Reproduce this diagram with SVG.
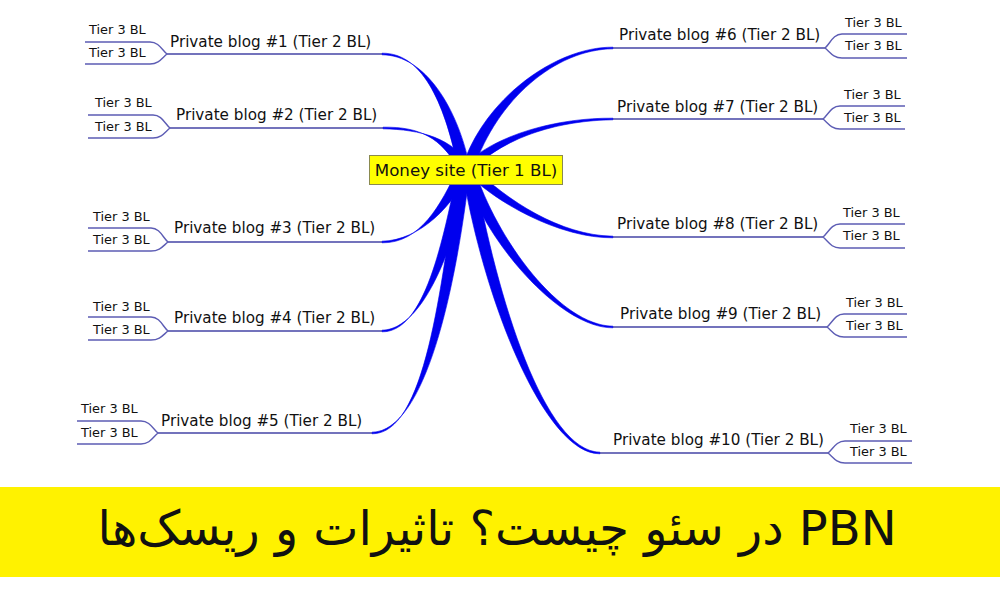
<svg xmlns="http://www.w3.org/2000/svg" width="1000" height="600" viewBox="0 0 1000 600">
<style>
.t2{font-family:"DejaVu Sans",Verdana,sans-serif;font-size:15.2px;fill:#111}
.t3{font-family:"DejaVu Sans",Verdana,sans-serif;font-size:12.9px;fill:#111}
.ul{fill:none;stroke:#4444a6;stroke-width:1.5}
.fk{fill:none;stroke:#5c5cb4;stroke-width:1.4}
.br{fill:#0000ee;stroke:#0000ee;stroke-width:0.6}
</style>
<rect width="1000" height="600" fill="#ffffff"/>
<g id="connectors">
<path class="br" d="M382,53.2 C425,52.5 446,110 458,168 L470,168 C458,108 425,55 382,54.8 Z"/>
<path class="br" d="M383,127.2 C420,126.5 441,138 458,168 L470,168 C455,138 420,129.5 383,128.8 Z"/>
<path class="br" d="M382,241.2 C420,240.5 455,205 470,168 L458,168 C441,205 420,243.5 382,242.8 Z"/>
<path class="br" d="M382,330.2 C425,329.5 457,240 470,168 L458,168 C443,240 425,332.5 382,331.8 Z"/>
<path class="br" d="M372,432.2 C425,431.5 456,290 470,168 L458,168 C441,290 425,434.5 372,433.8 Z"/>
<path class="br" d="M613,47.2 C555,46.5 483,100 462,168 L474,168 C497,100 555,49.5 613,48.8 Z"/>
<path class="br" d="M613,118.2 C560,117.5 493,134 462,168 L474,168 C507,136 560,120.5 613,119.8 Z"/>
<path class="br" d="M613,236.2 C560,235.5 507,200 474,168 L462,168 C493,202 560,238.5 613,237.8 Z"/>
<path class="br" d="M613,326.2 C560,325.5 497,240 474,168 L462,168 C483,240 560,328.5 613,327.8 Z"/>
<path class="br" d="M600,452.2 C545,451.5 497,300 474,168 L462,168 C483,300 545,454.5 600,453.8 Z"/>
</g>
<g id="money-site">
<rect x="369.5" y="155.5" width="193" height="29" fill="#ffff00" stroke="#8a8a50" stroke-width="1"/>
<text x="466" y="176" text-anchor="middle" font-family="DejaVu Sans, Verdana, sans-serif" font-size="16.7" fill="#111">Money site (Tier 1 BL)</text>
</g>
<g id="blog1">
<path class="ul" d="M167,54 L382,54"/>
<text class="t2" x="170" y="47">Private blog #1 (Tier 2 BL)</text>
<path class="fk" d="M85,42 L150,42 C159,42 162,50 167,54 M85,64 L150,64 C159,64 162,58 167,54"/>
<text class="t3" x="89" y="34">Tier 3 BL</text>
<text class="t3" x="89" y="57">Tier 3 BL</text>
</g>
<g id="blog2">
<path class="ul" d="M170,128 L383,128"/>
<text class="t2" x="176" y="120">Private blog #2 (Tier 2 BL)</text>
<path class="fk" d="M88,115 L153,115 C162,115 165,124 170,128 M88,138 L153,138 C162,138 165,132 170,128"/>
<text class="t3" x="95" y="107">Tier 3 BL</text>
<text class="t3" x="95" y="131">Tier 3 BL</text>
</g>
<g id="blog3">
<path class="ul" d="M168,242 L382,242"/>
<text class="t2" x="174" y="233">Private blog #3 (Tier 2 BL)</text>
<path class="fk" d="M88,228 L151,228 C160,228 163,238 168,242 M88,251 L151,251 C160,251 163,246 168,242"/>
<text class="t3" x="93" y="221">Tier 3 BL</text>
<text class="t3" x="93" y="244">Tier 3 BL</text>
</g>
<g id="blog4">
<path class="ul" d="M168,331 L382,331"/>
<text class="t2" x="174" y="323">Private blog #4 (Tier 2 BL)</text>
<path class="fk" d="M88,317 L151,317 C160,317 163,327 168,331 M88,340 L151,340 C160,340 163,335 168,331"/>
<text class="t3" x="93" y="311">Tier 3 BL</text>
<text class="t3" x="93" y="334">Tier 3 BL</text>
</g>
<g id="blog5">
<path class="ul" d="M158,433 L372,433"/>
<text class="t2" x="161" y="426">Private blog #5 (Tier 2 BL)</text>
<path class="fk" d="M77,421 L141,421 C150,421 153,429 158,433 M77,444 L141,444 C150,444 153,437 158,433"/>
<text class="t3" x="81" y="413">Tier 3 BL</text>
<text class="t3" x="81" y="437">Tier 3 BL</text>
</g>
<g id="blog6">
<path class="ul" d="M613,48 L825,48"/>
<text class="t2" x="619" y="40">Private blog #6 (Tier 2 BL)</text>
<path class="fk" d="M825,48 C830,44 833,34 842,34 L907,34 M825,48 C830,52 833,58 842,58 L907,58"/>
<text class="t3" x="845" y="27">Tier 3 BL</text>
<text class="t3" x="845" y="50">Tier 3 BL</text>
</g>
<g id="blog7">
<path class="ul" d="M613,119 L823,119"/>
<text class="t2" x="617" y="112">Private blog #7 (Tier 2 BL)</text>
<path class="fk" d="M823,119 C828,115 831,106 840,106 L905,106 M823,119 C828,123 831,129 840,129 L905,129"/>
<text class="t3" x="844" y="99">Tier 3 BL</text>
<text class="t3" x="844" y="122">Tier 3 BL</text>
</g>
<g id="blog8">
<path class="ul" d="M613,237 L823,237"/>
<text class="t2" x="617" y="229">Private blog #8 (Tier 2 BL)</text>
<path class="fk" d="M823,237 C828,233 831,224 840,224 L905,224 M823,237 C828,241 831,248 840,248 L905,248"/>
<text class="t3" x="843" y="217">Tier 3 BL</text>
<text class="t3" x="843" y="240">Tier 3 BL</text>
</g>
<g id="blog9">
<path class="ul" d="M613,327 L827,327"/>
<text class="t2" x="620" y="319">Private blog #9 (Tier 2 BL)</text>
<path class="fk" d="M827,327 C832,323 835,314 844,314 L907,314 M827,327 C832,331 835,337 844,337 L907,337"/>
<text class="t3" x="846" y="307">Tier 3 BL</text>
<text class="t3" x="846" y="330">Tier 3 BL</text>
</g>
<g id="blog10">
<path class="ul" d="M600,453 L828,453"/>
<text class="t2" x="613" y="445">Private blog #10 (Tier 2 BL)</text>
<path class="fk" d="M828,453 C833,449 836,441 845,441 L912,441 M828,453 C833,457 836,463 845,463 L912,463"/>
<text class="t3" x="850" y="433">Tier 3 BL</text>
<text class="t3" x="850" y="456">Tier 3 BL</text>
</g>
<g id="banner">
<rect x="0" y="487" width="1000" height="90" fill="#fff200"/>
<text x="497" y="545" text-anchor="middle" direction="rtl" font-family="DejaVu Sans, sans-serif" font-size="48" fill="#111">PBN در سئو چیست؟ تاثیرات و ریسک‌ها</text>
</g>
</svg>
